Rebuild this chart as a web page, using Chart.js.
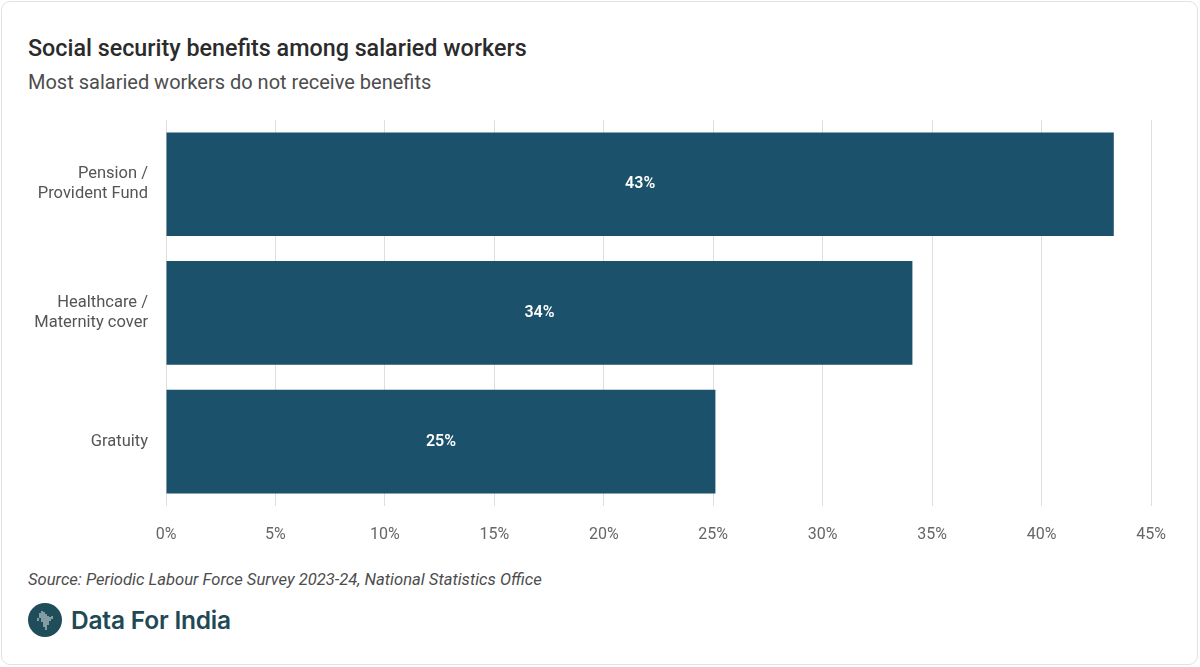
<!DOCTYPE html>
<html>
<head>
<meta charset="utf-8">
<script src="https://cdn.jsdelivr.net/npm/chart.js@4.4.1/dist/chart.umd.min.js"></script>
<style>
    html, body { margin: 0; padding: 0; background: #fff; }
    body { width: 1200px; height: 667px; position: relative; overflow: hidden; font-family: Roboto, "Noto Sans", sans-serif; }
    .card { position: absolute; left: 1px; top: 1px; width: 1195px; height: 662px; border: 1.5px solid #dfe3e7; border-radius: 9px; }
    .title { position: absolute; left: 28px; top: 34px; font-size: 23.3px; font-weight: 500; color: #2b2b2b; }
    .subtitle { position: absolute; left: 28px; top: 70px; font-size: 20px; color: #4d4d4d; }
    .source { position: absolute; left: 28px; top: 570px; font-size: 16.6px; font-style: italic; color: #4d4d4d; }
    .brand { position: absolute; left: 28px; top: 603px; height: 34px; display: flex; align-items: center; }
    .brand span { margin-left: 9px; font-family: Inter, Lato, sans-serif; font-weight: 600; font-size: 24.5px; color: #1f4a55; letter-spacing: -0.2px; }
    #wrap { position: absolute; left: 0; top: 92px; width: 1200px; height: 458px; }
</style>
</head>
<body>
<div class="card"></div>
<div class="title">Social security benefits among salaried workers</div>
<div class="subtitle">Most salaried workers do not receive benefits</div>
<div id="wrap"><canvas id="chart"></canvas></div>
<div class="source">Source: Periodic Labour Force Survey 2023-24, National Statistics Office</div>
<div class="brand">
    <svg width="34" height="34" viewBox="0 0 34 34">
        <circle cx="17" cy="17" r="17" fill="#1f4d5a"/>
        <g stroke="#fff" stroke-width="1" opacity="0.9">
            <line x1="12" y1="10" x2="12" y2="15"/>
            <line x1="14" y1="8" x2="14" y2="19"/>
            <line x1="16" y1="9" x2="16" y2="24"/>
            <line x1="18" y1="11" x2="18" y2="27"/>
            <line x1="20" y1="13" x2="20" y2="22"/>
            <line x1="22" y1="14" x2="22" y2="18"/>
            <line x1="24" y1="13" x2="24" y2="16"/>
            <line x1="10" y1="15" x2="10" y2="18"/>
        </g>
    </svg>
    <span>Data For India</span>
</div>

<script>
    var categories = [
        ['Pension /', 'Provident Fund'],
        ['Healthcare /', 'Maternity cover'],
        'Gratuity'
    ];
    var shares = [43.3, 34.1, 25.1];
    var xTicks = [0, 5, 10, 15, 20, 25, 30, 35, 40, 45];

    // draw the value in the middle of each bar
    var barLabels = {
        id: 'barLabels',
        afterDatasetsDraw: function (chart) {
            var ctx = chart.ctx;
            var meta = chart.getDatasetMeta(0);
            ctx.save();
            ctx.fillStyle = '#ffffff';
            ctx.font = '600 16px Roboto';
            ctx.textAlign = 'center';
            ctx.textBaseline = 'middle';
            meta.data.forEach(function (bar, i) {
                var cx = (bar.x + bar.base) / 2;
                ctx.fillText(Math.round(shares[i]) + '%', cx, bar.y);
            });
            ctx.restore();
        }
    };

    new Chart(document.getElementById('chart').getContext('2d'), {
        type: 'bar',
        data: {
            labels: categories,
            datasets: [{
                data: shares,
                backgroundColor: '#1b516b',
                borderWidth: 0,
                barPercentage: 0.806,
                categoryPercentage: 1
            }]
        },
        options: {
            indexAxis: 'y',
            responsive: true,
            maintainAspectRatio: false,
            animation: false,
            layout: { padding: { top: 9, right: 49, left: 0, bottom: 0 } },
            plugins: {
                legend: { display: false },
                tooltip: { enabled: false }
            },
            scales: {
                x: {
                    min: 0,
                    max: 45,
                    afterBuildTicks: function (scale) {
                        scale.ticks = xTicks.map(function (v) { return { value: v }; });
                    },
                    afterFit: function (scale) { scale.height = 44; },
                    border: { display: false },
                    grid: { color: '#dedede', lineWidth: 1, drawTicks: false },
                    ticks: {
                        padding: 19,
                        color: '#666',
                        font: { family: 'Roboto', size: 16 },
                        callback: function (v) { return v + '%'; }
                    }
                },
                y: {
                    afterFit: function (scale) { scale.width = 166; },
                    border: { display: false },
                    grid: { display: false, drawTicks: false },
                    ticks: {
                        padding: 18,
                        color: '#555',
                        font: { family: 'Roboto', size: 16.5, lineHeight: 1.2 }
                    }
                }
            }
        },
        plugins: [barLabels]
    });
</script>
</body>
</html>
